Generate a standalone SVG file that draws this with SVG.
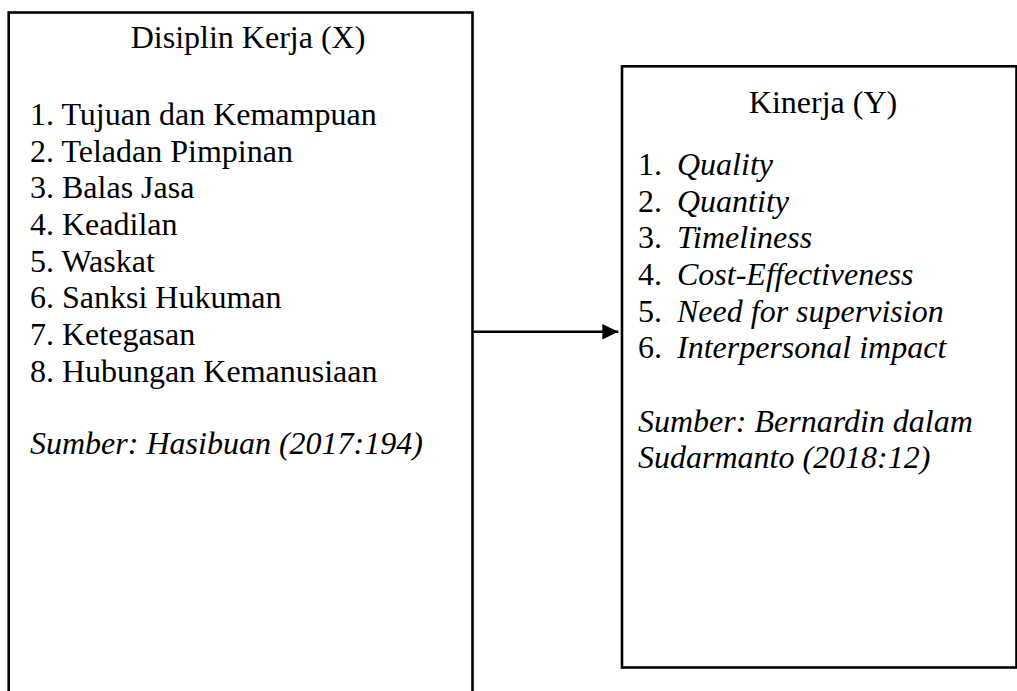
<svg xmlns="http://www.w3.org/2000/svg" width="1017" height="691" viewBox="0 0 1017 691">
  <style>
    .box { fill: #ffffff; stroke: #000000; stroke-width: 2.6; }
    .t { font-family: "Liberation Serif", "Times New Roman", serif; font-size: 32px; fill: #000000; }
    .i { font-style: italic; }
    .conn { stroke: #000000; stroke-width: 2.6; fill: none; }
  </style>
  <defs>
    <marker id="arrow" markerUnits="userSpaceOnUse" markerWidth="17" markerHeight="16" refX="16" refY="7.7" orient="auto">
      <path d="M0,0 L16,7.7 L0,15.4 Z" fill="#000000"/>
    </marker>
  </defs>
  <rect width="1017" height="691" fill="#ffffff"/>

  <g id="node-x">
    <rect class="box" x="8.7" y="12.5" width="463.8" height="700"/>
    <text class="t" x="248" y="48" text-anchor="middle">Disiplin Kerja (X)</text>
    <text class="t" x="30" y="125">1. Tujuan dan Kemampuan</text>
    <text class="t" x="30" y="161.7">2. Teladan Pimpinan</text>
    <text class="t" x="30" y="198.3">3. Balas Jasa</text>
    <text class="t" x="30" y="235">4. Keadilan</text>
    <text class="t" x="30" y="271.7">5. Waskat</text>
    <text class="t" x="30" y="308.3">6. Sanksi Hukuman</text>
    <text class="t" x="30" y="345">7. Ketegasan</text>
    <text class="t" x="30" y="381.7">8. Hubungan Kemanusiaan</text>
    <text class="t i" x="30" y="454">Sumber: Hasibuan (2017:194)</text>
  </g>

  <g id="node-y">
    <rect class="box" x="622" y="66.3" width="394.5" height="601.2"/>
    <text class="t" x="823" y="113.3" text-anchor="middle">Kinerja (Y)</text>
    <text class="t" x="638" y="175">1.</text><text class="t i" x="677" y="175">Quality</text>
    <text class="t" x="638" y="211.7">2.</text><text class="t i" x="677" y="211.7">Quantity</text>
    <text class="t" x="638" y="248.3">3.</text><text class="t i" x="677" y="248.3">Timeliness</text>
    <text class="t" x="638" y="285">4.</text><text class="t i" x="677" y="285">Cost-Effectiveness</text>
    <text class="t" x="638" y="321.7">5.</text><text class="t i" x="677" y="321.7">Need for supervision</text>
    <text class="t" x="638" y="358.3">6.</text><text class="t i" x="677" y="358.3">Interpersonal impact</text>
    <text class="t i" x="638" y="431.7">Sumber: Bernardin dalam</text>
    <text class="t i" x="638" y="468.3">Sudarmanto (2018:12)</text>
  </g>

  <g id="connectors">
    <line class="conn" x1="473.8" y1="331.7" x2="618.3" y2="331.7" marker-end="url(#arrow)"/>
  </g>
</svg>
